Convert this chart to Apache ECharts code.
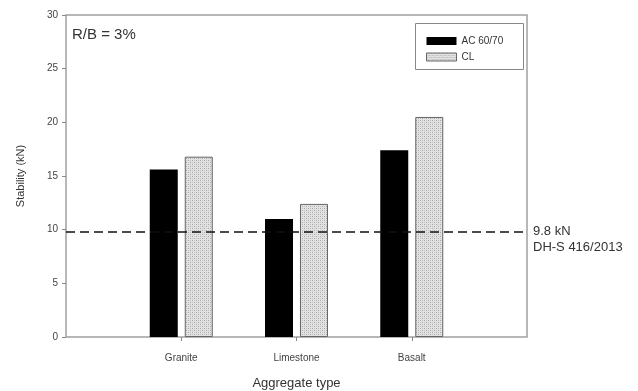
<!DOCTYPE html>
<html><head><meta charset="utf-8">
<script src="https://cdn.jsdelivr.net/npm/echarts@6/dist/echarts.min.js"></script>
<style>html,body{margin:0;padding:0;background:#fff}#c{width:638px;height:391px}</style>
</head><body><div id="c"></div>
<script>
const categories = ['Granite', 'Limestone', 'Basalt'];
const ac6070 = [15.6, 11.0, 17.4];
const cl = [16.8, 12.4, 20.5];
const threshold = 9.8;
const yTicks = [0, 5, 10, 15, 20, 25, 30];

function hatch() {
  const c = document.createElement('canvas');
  c.width = 4; c.height = 4;
  const g = c.getContext('2d');
  g.fillStyle = '#e2e2e2'; g.fillRect(0, 0, 4, 4);
  g.fillStyle = '#a8a8a8';
  g.fillRect(0, 0, 1, 1); g.fillRect(2, 2, 1, 1);
  g.fillStyle = '#c4c4c4';
  g.fillRect(2, 0, 1, 1); g.fillRect(0, 2, 1, 1);
  return c;
}
const clFill = { image: hatch(), repeat: 'repeat' };

const chart = echarts.init(document.getElementById('c'), null, { renderer: 'canvas' });
chart.setOption({
  animation: false,
  textStyle: { fontFamily: 'Liberation Sans, Arial, sans-serif' },
  grid: { left: 66, right: 111, top: 15, bottom: 54, outerBoundsMode: 'none', containLabel: false, show: true, borderColor: '#a0a0a0', borderWidth: 1.5, backgroundColor: 'transparent' },
  legend: {
    orient: 'vertical', left: 421, top: 31, itemWidth: 30, itemHeight: 8, itemGap: 6, icon: 'rect',
    textStyle: { fontSize: 10, color: '#333' },
    data: [
      { name: 'AC 60/70', itemStyle: { color: '#000', borderWidth: 0 } },
      { name: 'CL', itemStyle: { color: clFill, borderColor: '#666', borderWidth: 1 } }
    ]
  },
  graphic: [
    { type: 'rect', left: 413, top: 21, shape: { width: 108, height: 46 }, style: { fill: 'none', stroke: '#888', lineWidth: 1 } },
    { type: 'text', left: 72, top: 27, style: { text: 'R/B = 3%', fontSize: 15, fill: '#333', fontFamily: 'Liberation Sans, Arial, sans-serif' } }
  ],
  xAxis: {
    type: 'value', min: 0, max: 4, interval: 1,
    name: 'Aggregate type', nameLocation: 'middle', nameGap: 40,
    nameTextStyle: { fontSize: 13, color: '#333' },
    axisLine: { show: false },
    axisTick: { show: true, length: 4, lineStyle: { color: '#888' }, customValues: [1, 2, 3] },
    splitLine: { show: false },
    axisLabel: { fontSize: 10, color: '#444', margin: 16, formatter: v => categories[v - 1] || '' }
  },
  yAxis: {
    type: 'value', min: 0, max: 30, interval: 5,
    name: 'Stability (kN)', nameLocation: 'middle', nameGap: 40,
    nameTextStyle: { fontSize: 11, color: '#333' },
    axisLine: { show: false },
    axisTick: { show: true, length: 4, lineStyle: { color: '#888' } },
    splitLine: { show: false },
    axisLabel: { fontSize: 10, color: '#444', margin: 8, formatter: v => yTicks.includes(v) ? String(v) : '' }
  },
  series: [
    {
      name: 'AC 60/70', type: 'bar', barWidth: 28, barGap: '25%',
      itemStyle: { color: '#000' },
      data: ac6070.map((v, i) => [i + 1, v]),
      markLine: {
        silent: true, symbol: 'none',
        lineStyle: { color: '#111', type: [9, 5], width: 1.5 },
        label: {
          show: true, position: 'end', distance: 6, formatter: '9.8 kN\nDH-S 416/2013',
          fontSize: 13, color: '#333', lineHeight: 16, align: 'left', verticalAlign: 'top', offset: [0, -8]
        },
        data: [{ yAxis: threshold }]
      }
    },
    {
      name: 'CL', type: 'bar', barWidth: 28, barGap: '25%',
      itemStyle: { color: clFill, borderColor: '#666', borderWidth: 1 },
      data: cl.map((v, i) => [i + 1, v])
    }
  ]
});
</script></body></html>
